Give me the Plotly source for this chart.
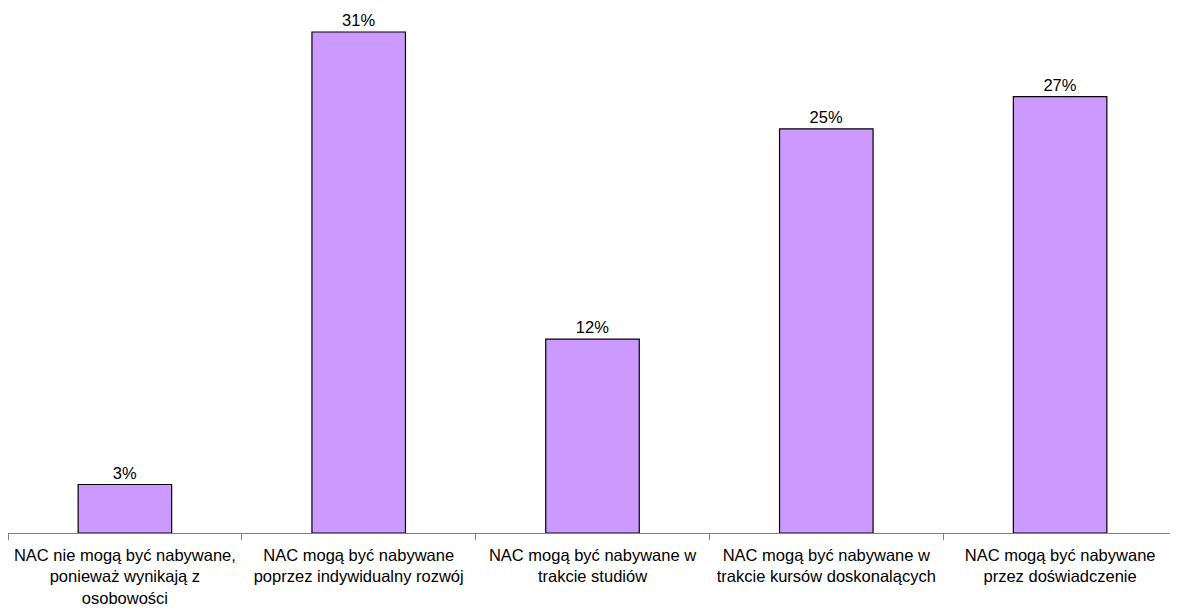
import plotly.graph_objects as go

categories = [
    "NAC nie mogą być nabywane,<br>ponieważ wynikają z<br>osobowości",
    "NAC mogą być nabywane<br>poprzez indywidualny rozwój",
    "NAC mogą być nabywane w<br>trakcie studiów",
    "NAC mogą być nabywane w<br>trakcie kursów doskonalących",
    "NAC mogą być nabywane<br>przez doświadczenie",
]
values = [3, 31, 12, 25, 27]
labels = [f"{v}%" for v in values]

fig = go.Figure(go.Bar(
    x=categories, y=values, text=labels, textposition="outside",
    textfont=dict(family="Liberation Sans, Arial", size=16.5, color="black"),
    marker=dict(color="#CC99FF", line=dict(color="black", width=1.2)),
    width=0.4, cliponaxis=False,
))
fig.update_layout(
    width=1170, height=604,
    margin=dict(l=0, r=1, t=2, b=79),
    paper_bgcolor="white", plot_bgcolor="white",
    showlegend=False,
    font=dict(family="Liberation Sans, Arial", size=16.5, color="black"),
)
fig.update_xaxes(
    showline=True, linecolor="#808080", linewidth=1,
    ticks="outside", tickson="boundaries", ticklen=6, tickcolor="#808080",
    showgrid=False, tickfont=dict(size=16.5, color="black"), automargin=False,
    ticklabelstandoff=7,
)
fig.update_yaxes(visible=False, range=[0, 32.36], showgrid=False, automargin=False)
fig.write_html("out.html")
